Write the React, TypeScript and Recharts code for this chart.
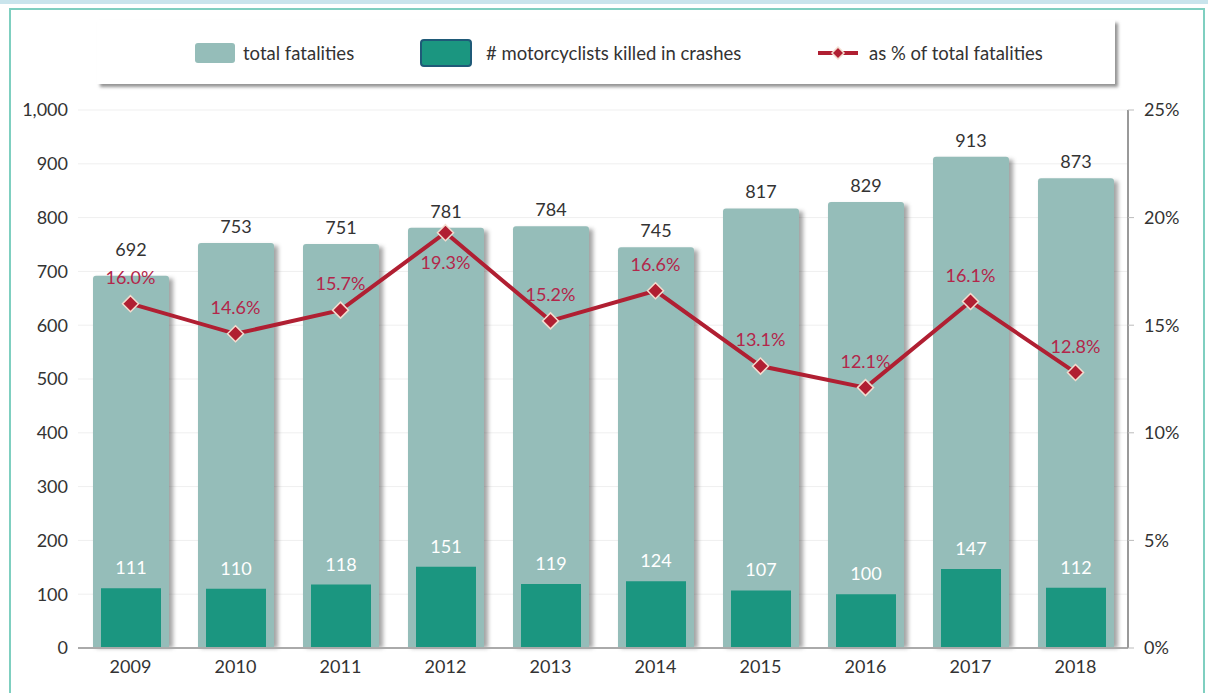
import { Bar, CartesianGrid, ComposedChart, LabelList, Line, Rectangle, XAxis, YAxis } from 'recharts'

const years = ['2009', '2010', '2011', '2012', '2013', '2014', '2015', '2016', '2017', '2018']
const totalFatalities = [692, 753, 751, 781, 784, 745, 817, 829, 913, 873]
const motorcyclistsKilled = [111, 110, 118, 151, 119, 124, 107, 100, 147, 112]
const shareOfTotal = [16.0, 14.6, 15.7, 19.3, 15.2, 16.6, 13.1, 12.1, 16.1, 12.8]
const countTicks = [0, 100, 200, 300, 400, 500, 600, 700, 800, 900, 1000]
const shareTicks = [0, 5, 10, 15, 20, 25]
// label placement exceptions seen in the original
const shareLabelBelow = ['2012']
const totalLabelRaised = ['2009']

const data = years.map((year, i) => ({
  year,
  total: totalFatalities[i],
  moto: motorcyclistsKilled[i],
  pct: shareOfTotal[i],
}))

const TOTAL = '#95bdb9'
const MOTO = '#1b9680'
const RED = '#b01f32'
const PCT_TEXT = '#b3264a'
const TEXT = '#333333'

function ShadowBar(props: any) {
  const { x, y, width, height, fill } = props
  if (!height) return null
  return (
    <g>
      <rect
        x={x + 3}
        y={y + 3}
        width={width + 1}
        height={height - 3}
        fill="#4a4a4a"
        opacity={0.5}
        style={{ filter: 'blur(2px)' }}
      />
      <Rectangle x={x} y={y} width={width} height={height} fill={fill} radius={[3, 3, 0, 0]} />
    </g>
  )
}

function Diamond(props: any) {
  const { cx, cy } = props
  if (cx == null || cy == null) return null
  const r = 8
  return (
    <polygon
      points={`${cx},${cy - r} ${cx + r},${cy} ${cx},${cy + r} ${cx - r},${cy}`}
      fill={RED}
      stroke="#f4dccf"
      strokeWidth={1.5}
    />
  )
}

function TotalLabel(props: any) {
  const { x, y, width, value, index } = props
  const lift = totalLabelRaised.includes(years[index]) ? 20 : 10
  return (
    <text x={x + width / 2} y={y - lift} textAnchor="middle" fill={TEXT} fontSize={18}>
      {value}
    </text>
  )
}

function MotoLabel(props: any) {
  const { x, y, width, value } = props
  return (
    <text x={x + width / 2} y={y - 14} textAnchor="middle" fill="#ffffff" fontSize={18}>
      {value}
    </text>
  )
}

function PctLabel(props: any) {
  const { x, y, value, index } = props
  const below = shareLabelBelow.includes(years[index])
  return (
    <text x={x} y={below ? y + 36 : y - 20} textAnchor="middle" fill={PCT_TEXT} fontSize={18}>
      {Number(value).toFixed(1)}%
    </text>
  )
}

function Legend() {
  const item = { position: 'absolute' as const, top: 0, height: 66, display: 'flex', alignItems: 'center' }
  return (
    <div
      style={{
        position: 'absolute',
        left: 97,
        top: 20,
        width: 1018,
        height: 64,
        background: '#fff',
        boxShadow: '3px 3px 3px rgba(60,60,60,0.55)',
        fontSize: 18.5,
        color: TEXT,
      }}
    >
      <div style={{ ...item, left: 98 }}>
        <div style={{ width: 40, height: 20, background: TOTAL, borderRadius: 3, marginRight: 8 }} />
        <span>total fatalities</span>
      </div>
      <div style={{ ...item, left: 323 }}>
        <div
          style={{
            width: 48,
            height: 24,
            background: MOTO,
            border: '2px solid #1f5a78',
            borderRadius: 4,
            marginRight: 14,
          }}
        />
        <span># motorcyclists killed in crashes</span>
      </div>
      <div style={{ ...item, left: 720 }}>
        <svg width={42} height={16} style={{ marginRight: 10 }}>
          <line x1={1} y1={8} x2={41} y2={8} stroke={RED} strokeWidth={4} />
          <polygon points="21,2 27,8 21,14 15,8" fill={RED} stroke="#f4dccf" strokeWidth={1.5} />
        </svg>
        <span>as % of total fatalities</span>
      </div>
    </div>
  )
}

export default function App() {
  return (
    <div
      style={{
        position: 'absolute',
        left: 0,
        top: 0,
        width: 1208,
        height: 693,
        background: '#fff',
        fontFamily: 'Lato, "Open Sans", sans-serif',
        overflow: 'hidden',
      }}
    >
      <div style={{ position: 'absolute', left: 0, top: 0, width: 1208, height: 4, background: '#c9e4ec' }} />
      <div
        style={{
          position: 'absolute',
          left: 9,
          top: 8,
          width: 1192,
          height: 700,
          borderLeft: '2px solid #7fcfc0',
          borderTop: '2px solid #7fcfc0',
          borderRight: '2px solid #7fcfc0',
        }}
      />
      <Legend />
      <div style={{ position: 'absolute', left: 0, top: 0 }}>
        <ComposedChart
          width={1208}
          height={693}
          data={data}
          margin={{ top: 110, right: 0, left: 0, bottom: 0 }}
          barCategoryGap={0}
        >
          <CartesianGrid vertical={false} stroke="#efefef" yAxisId="left" />
          <XAxis xAxisId="inner" dataKey="year" hide height={0} />
          <XAxis
            xAxisId="main"
            dataKey="year"
            height={45}
            tickLine={false}
            axisLine={{ stroke: '#aaaaaa', strokeWidth: 2 }}
            tick={{ fill: TEXT, fontSize: 18 }}
            tickMargin={6}
          />
          <YAxis
            yAxisId="left"
            domain={[0, 1000]}
            ticks={countTicks}
            width={78}
            axisLine={false}
            tickLine={false}
            tickSize={4}
            tickMargin={6}
            interval={0}
            tick={{ fill: TEXT, fontSize: 18 }}
            tickFormatter={(v: number) => v.toLocaleString('en-US')}
          />
          <YAxis
            yAxisId="right"
            orientation="right"
            domain={[0, 25]}
            ticks={shareTicks}
            width={80}
            axisLine={{ stroke: '#999999', strokeWidth: 2 }}
            tickLine={{ stroke: '#bbbbbb' }}
            tickSize={6}
            tickMargin={10}
            interval={0}
            tick={{ fill: TEXT, fontSize: 18, textAnchor: 'start' }}
            tickFormatter={(v: number) => `${v}%`}
          />
          <Bar
            xAxisId="main"
            yAxisId="left"
            dataKey="total"
            fill={TOTAL}
            barSize={76}
            shape={ShadowBar}
            isAnimationActive={false}
          >
            <LabelList dataKey="total" content={TotalLabel} />
          </Bar>
          <Bar
            xAxisId="inner"
            yAxisId="left"
            dataKey="moto"
            fill={MOTO}
            barSize={60}
            isAnimationActive={false}
          >
            <LabelList dataKey="moto" content={MotoLabel} />
          </Bar>
          <Line
            xAxisId="main"
            yAxisId="right"
            dataKey="pct"
            stroke={RED}
            strokeWidth={4}
            dot={<Diamond />}
            activeDot={false}
            isAnimationActive={false}
          >
            <LabelList dataKey="pct" content={PctLabel} />
          </Line>
        </ComposedChart>
      </div>
    </div>
  )
}
